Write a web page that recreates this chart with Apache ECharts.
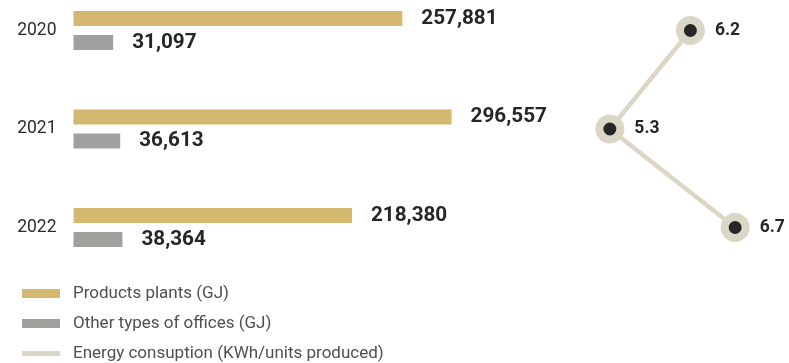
<!DOCTYPE html>
<html>
<head>
<meta charset="utf-8">
<script src="https://cdn.jsdelivr.net/npm/echarts@6/dist/echarts.min.js"></script>
<style>
  html, body { margin: 0; padding: 0; background: #ffffff; }
  #chart { width: 789px; height: 363px; }
</style>
</head>
<body>
<div id="chart"></div>
<script>
// Energy consumption by year
const years = ['2020', '2021', '2022'];
const productsPlants = [257881, 296557, 218380];   // GJ
const otherOffices = [31097, 36613, 38364];        // GJ
const energyIntensity = [6.2, 5.3, 6.7];           // KWh / units produced

const seriesNames = [
  'Products plants (GJ)',
  'Other types of offices (GJ)',
  'Energy consuption (KWh/units produced)'
];

const GOLD = '#d5b86f';
const GREY = '#a0a09f';
const BEIGE = '#dbd6c5';
const INK = '#262626';
const FONT = 'Roboto';

const fmt = v => v.toLocaleString('en-US');

const chart = echarts.init(document.getElementById('chart'), null, { renderer: 'canvas' });

// the three year bands share one vertical layout between both grids
const bandTop = -18.75;
const bandHeight = 295.5;

chart.setOption({
  animation: false,
  textStyle: { fontFamily: FONT },
  grid: [
    { left: 73.5, top: bandTop, width: 510, height: bandHeight, containLabel: false, outerBoundsMode: 'none' },
    { left: 583, top: bandTop, width: 179, height: bandHeight, containLabel: false, outerBoundsMode: 'none' }
  ],
  xAxis: [
    { gridIndex: 0, type: 'value', min: 0, max: 400000, show: false },
    { gridIndex: 1, type: 'value', min: 5, max: 7, show: false }
  ],
  yAxis: [
    {
      gridIndex: 0, type: 'category', data: years, inverse: true,
      axisLine: { show: false }, axisTick: { show: false }, splitLine: { show: false },
      axisLabel: { margin: 17, color: '#2b2b2b', fontSize: 17.5, fontFamily: FONT, padding: [4, 0, 0, 0] }
    },
    {
      gridIndex: 1, type: 'category', data: years, inverse: true, show: false
    }
  ],
  legend: {
    orient: 'vertical',
    left: 17,
    top: 280,
    height: 90,
    itemWidth: 38,
    itemHeight: 9,
    itemGap: 13,
    selectedMode: false,
    textStyle: { fontFamily: FONT, fontSize: 17, color: '#4f4f4f', padding: [0, 0, 0, 8] },
    data: [
      { name: seriesNames[0], icon: 'rect', itemStyle: { color: GOLD } },
      { name: seriesNames[1], icon: 'rect', itemStyle: { color: GREY } },
      { name: seriesNames[2], icon: 'path://M0,0H38V5H0Z', itemStyle: { color: BEIGE, borderWidth: 0 } }
    ]
  },
  series: [
    {
      name: seriesNames[0], type: 'bar', xAxisIndex: 0, yAxisIndex: 0,
      data: productsPlants, barWidth: 15, barGap: '60%',
      itemStyle: { color: GOLD },
      label: {
        show: true, position: 'right', distance: 19,
        formatter: p => fmt(p.value),
        fontFamily: FONT, fontWeight: 'bold', fontSize: 20.7, color: INK
      }
    },
    {
      name: seriesNames[1], type: 'bar', xAxisIndex: 0, yAxisIndex: 0,
      data: otherOffices, barWidth: 15,
      itemStyle: { color: GREY },
      label: {
        show: true, position: 'right', distance: 19,
        formatter: p => fmt(p.value),
        fontFamily: FONT, fontWeight: 'bold', fontSize: 20.7, color: INK
      }
    },
    {
      name: seriesNames[2], type: 'line', xAxisIndex: 1, yAxisIndex: 1,
      data: energyIntensity.map((v, i) => [v, years[i]]),
      lineStyle: { color: BEIGE, width: 4.5 },
      symbol: 'circle', symbolSize: 21,
      itemStyle: { color: INK, borderColor: BEIGE, borderWidth: 8 },
      label: {
        show: true, position: 'right', distance: 10,
        formatter: p => p.value[0].toFixed(1),
        fontFamily: FONT, fontWeight: 'bold', fontSize: 17.5, color: INK
      }
    }
  ]
});
</script>
</body>
</html>
